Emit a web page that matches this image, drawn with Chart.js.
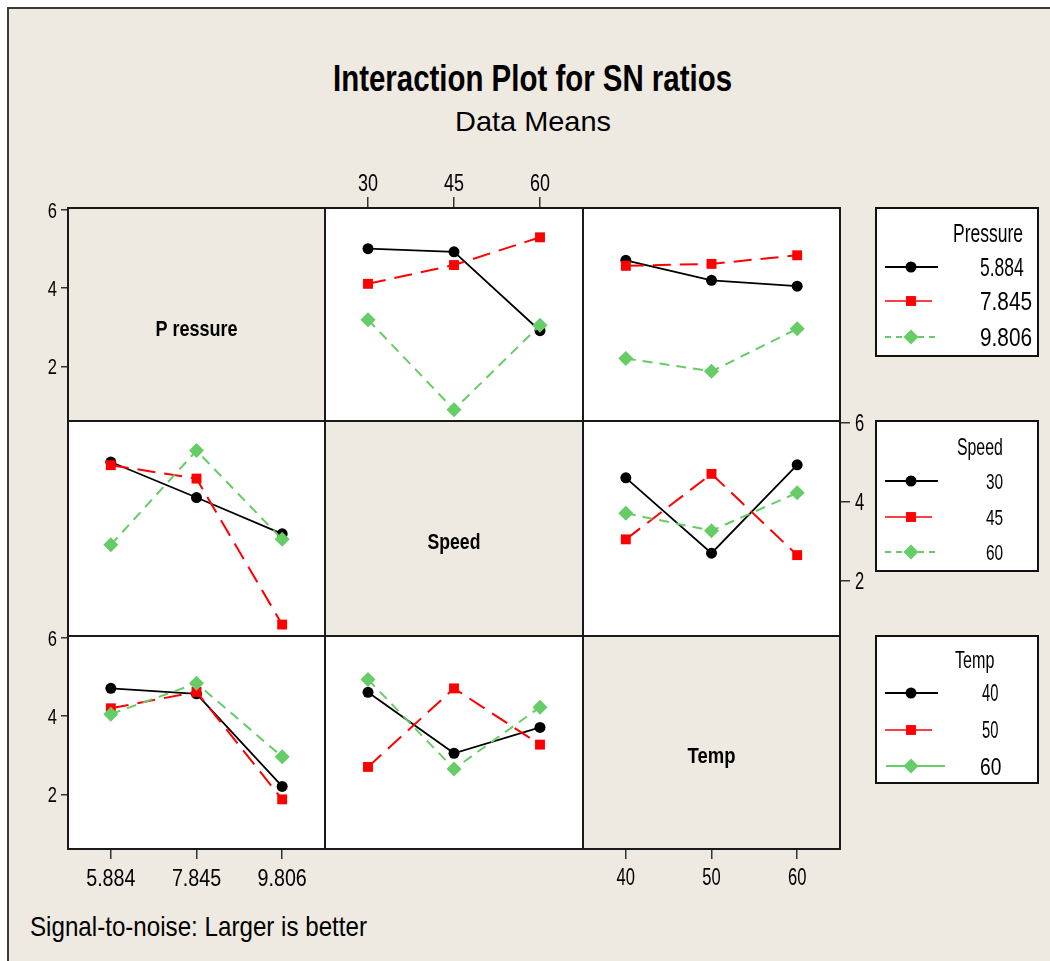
<!DOCTYPE html>
<html><head><meta charset="utf-8">
<script src="https://cdn.jsdelivr.net/npm/chart.js@4.4.1/dist/chart.umd.min.js"></script>
<style>
html,body{margin:0;padding:0;background:#fff;}
body{width:1050px;height:961px;position:relative;overflow:hidden;font-family:"Liberation Sans",Arial,sans-serif;}
#frame{position:absolute;left:7px;top:7px;width:1100px;height:1000px;background:#EEEAE1;border-left:2px solid #3a3a3a;border-top:2px solid #3a3a3a;}
canvas{position:absolute;}
.txt{position:absolute;white-space:nowrap;transform-origin:0 0;color:#000;line-height:1;}
</style></head><body>
<div id="frame"></div>
<div id="title" class="txt" style="font-weight:bold;font-size:36px;">Interaction Plot for SN ratios</div>
<div id="subtitle" class="txt" style="font-size:28px;">Data Means</div>
<div id="note" class="txt" style="font-size:28px;">Signal-to-noise: Larger is better</div>
<script>
// ---------- data ----------
const pressureLevels = ['5.884', '7.845', '9.806'];
const speedLevels = ['30', '45', '60'];
const tempLevels = ['40', '50', '60'];
const yTicks = [2, 4, 6];
// mean SN ratios: rows = level of first factor, columns = level of second factor
const snPressureSpeed = [
  [5.01, 4.93, 2.91],
  [4.11, 4.59, 5.30],
  [3.19, 0.89, 3.05]
];
const snPressureTemp = [
  [4.71, 4.20, 4.05],
  [4.57, 4.62, 4.84],
  [2.20, 1.87, 2.96]
];
const snSpeedTemp = [
  [4.61, 2.70, 4.94],
  [3.05, 4.71, 2.65],
  [3.71, 3.27, 4.23]
];

// ---------- styles ----------
const FONT = '"Liberation Sans", Arial, sans-serif';
const BEIGE = '#EEEAE1';
const Y_MIN = 0.6, Y_MAX = 6.05;
const colEdges = [68, 325, 583, 840];
const rowEdges = [208, 421, 636, 849];
const seriesStyle = [
  {color: '#000000', dash: [], pointStyle: 'circle', radius: 5.5, width: 1.8, order: 3},
  {color: '#FF0000', dash: [18, 9], pointStyle: 'rect', radius: 7, width: 2, order: 2},
  {color: '#66CC66', dash: [10, 7], pointStyle: 'rectRot', radius: 7.5, width: 2, order: 1}
];

const transpose = m => m[0].map((_, j) => m.map(row => row[j]));

function placeText(id, x, baseline, width) {
  const el = document.getElementById(id);
  const fs = parseFloat(getComputedStyle(el).fontSize);
  const w = el.getBoundingClientRect().width;
  el.style.left = x + 'px';
  el.style.top = (baseline - 0.8465 * fs) + 'px';
  el.style.transform = 'scaleX(' + (width / w) + ')';
}
placeText('title', 333, 91, 399);
placeText('subtitle', 455, 132, 156);
placeText('note', 30, 937, 337);

function drawScaledText(ctx, text, x, baseline, size, sx, align, bold) {
  ctx.save();
  ctx.font = (bold ? 'bold ' : '') + size + 'px ' + FONT;
  ctx.fillStyle = '#000';
  ctx.textAlign = align || 'left';
  ctx.textBaseline = 'alphabetic';
  ctx.translate(x, baseline);
  ctx.scale(sx, 1);
  ctx.fillText(text, 0, 0);
  ctx.restore();
}

// ---------- plugins ----------
const cellPlugin = {
  id: 'cell',
  beforeDraw(chart, args, o) {
    const a = chart.chartArea, ctx = chart.ctx;
    ctx.save();
    ctx.fillStyle = o.fill || '#fff';
    ctx.fillRect(a.left, a.top, a.right - a.left, a.bottom - a.top);
    ctx.restore();
  },
  afterDraw(chart, args, o) {
    const a = chart.chartArea, ctx = chart.ctx;
    ctx.save();
    ctx.strokeStyle = '#1a1a1a';
    ctx.lineWidth = 2;
    ctx.strokeRect(a.left, a.top, a.right - a.left, a.bottom - a.top);
    ctx.restore();
    if (o.label) {
      const cx = (a.left + a.right) / 2;
      const cy = (a.top + a.bottom) / 2 + o.label.dy + 0.358 * o.label.size;
      drawScaledText(ctx, o.label.text, cx, cy, o.label.size, o.label.sx, 'center', true);
    }
  }
};

// tick labels drawn at the library's tick positions, in a horizontally condensed face
const tickTextPlugin = {
  id: 'tickText',
  afterDraw(chart, args, o) {
    const ctx = chart.ctx, a = chart.chartArea;
    ['x', 'y'].forEach(key => {
      const cfg = o[key];
      if (!cfg) return;
      const scale = chart.scales[key];
      scale.ticks.forEach((t, i) => {
        const p = scale.getPixelForTick(i);
        const label = String(t.label);
        const capHalf = 0.358 * cfg.size;
        if (cfg.pos === 'bottom') drawScaledText(ctx, label, p, a.bottom + cfg.off + capHalf, cfg.size, cfg.sx, 'center');
        else if (cfg.pos === 'top') drawScaledText(ctx, label, p, a.top - cfg.off + capHalf, cfg.size, cfg.sx, 'center');
        else if (cfg.pos === 'left') drawScaledText(ctx, label, a.left - cfg.off, p + capHalf, cfg.size, cfg.sx, 'right');
        else drawScaledText(ctx, label, a.right + cfg.off, p + capHalf, cfg.size, cfg.sx, 'left');
      });
    });
  }
};

const legendPlugin = {
  id: 'boxLegend',
  afterDraw(chart, args, o) {
    if (!o || !o.box) return;
    const ctx = chart.ctx;
    const ox = parseFloat(chart.canvas.style.left), oy = parseFloat(chart.canvas.style.top);
    ctx.save();
    ctx.translate(-ox, -oy);
    const [x0, y0, x1, y1] = o.box;
    ctx.fillStyle = '#fff';
    ctx.fillRect(x0, y0, x1 - x0, y1 - y0);
    ctx.strokeStyle = '#111';
    ctx.lineWidth = 2;
    ctx.strokeRect(x0, y0, x1 - x0, y1 - y0);
    drawScaledText(ctx, o.title.text, o.title.x, o.title.base, o.title.size, o.title.sx);
    o.items.forEach((it, i) => {
      const s = seriesStyle[i];
      ctx.save();
      ctx.strokeStyle = s.color;
      ctx.lineWidth = it.lw;
      ctx.setLineDash(it.dash);
      ctx.beginPath();
      ctx.moveTo(it.lx0, it.y);
      ctx.lineTo(it.lx1, it.y);
      ctx.stroke();
      ctx.setLineDash([]);
      ctx.fillStyle = s.color;
      Chart.helpers.drawPoint(ctx, {pointStyle: s.pointStyle, radius: s.radius, rotation: 0, borderWidth: 0}, it.mx, it.y);
      ctx.restore();
      drawScaledText(ctx, o.labels[i], it.tx, it.y + 0.358 * it.size, it.size, it.sx);
    });
    ctx.restore();
  }
};

// ---------- chart builder ----------
function buildDatasets(rows, names) {
  return rows.map((vals, i) => {
    const s = seriesStyle[i];
    return {
      label: names[i], data: vals, order: s.order,
      borderColor: s.color, backgroundColor: s.color, borderWidth: s.width, borderDash: s.dash,
      pointStyle: s.pointStyle, pointRadius: s.radius, pointBackgroundColor: s.color,
      pointBorderColor: s.color, pointBorderWidth: 0, pointHoverRadius: s.radius,
      tension: 0, fill: false
    };
  });
}

function makeCell(r, c, spec) {
  const L = colEdges[c], R = colEdges[c + 1], T = rowEdges[r], B = rowEdges[r + 1];
  const pad = spec.pad;
  const W = R - L + pad.left + pad.right, H = B - T + pad.top + pad.bottom;
  const cv = document.createElement('canvas');
  cv.width = W; cv.height = H;
  cv.style.left = (L - pad.left) + 'px';
  cv.style.top = (T - pad.top) + 'px';
  cv.style.width = W + 'px';
  cv.style.height = H + 'px';
  document.body.appendChild(cv);

  const lp = {left: pad.left, right: pad.right, top: pad.top, bottom: pad.bottom};
  const xa = spec.xAxis, ya = spec.yAxis;
  if (xa) lp[xa.pos] -= xa.size;
  if (ya) lp[ya.pos] -= ya.size;

  const xScale = {
    type: 'category', offset: true, display: !!xa, position: xa ? xa.pos : 'bottom',
    grid: {display: true, drawOnChartArea: false, drawTicks: true, tickLength: xa ? xa.tl : 0, color: '#333', lineWidth: 1.5, offset: false},
    border: {display: false},
    ticks: {display: false, autoSkip: false, maxRotation: 0, minRotation: 0},
    afterFit: a => { if (xa) a.height = xa.size; }
  };
  const yScale = {
    type: 'linear', display: !!ya, position: ya ? ya.pos : 'left', min: Y_MIN, max: Y_MAX,
    afterBuildTicks: a => { a.ticks = yTicks.map(v => ({value: v})); },
    grid: {display: true, drawOnChartArea: false, drawTicks: true, tickLength: ya ? ya.tl : 0, color: '#333', lineWidth: 1.5},
    border: {display: false},
    ticks: {display: false},
    afterFit: a => { if (ya) a.width = ya.size; }
  };

  return new Chart(cv, {
    type: 'line',
    data: {labels: spec.labels, datasets: spec.rows ? buildDatasets(spec.rows, spec.names) : []},
    options: {
      responsive: false, animation: false, devicePixelRatio: 1,
      layout: {padding: lp},
      scales: {x: xScale, y: yScale},
      plugins: {
        legend: {display: false}, tooltip: {enabled: false},
        cell: {fill: spec.label ? BEIGE : '#FFFFFF', label: spec.label || null},
        tickText: {x: xa ? xa.text : null, y: ya ? ya.text : null},
        boxLegend: spec.legend || {}
      }
    },
    plugins: [cellPlugin, tickTextPlugin, legendPlugin]
  });
}

const P24 = {left: 24, right: 24, top: 24, bottom: 24};
const leftAxis = {pos: 'left', size: 68, tl: 7, text: {pos: 'left', off: 11, size: 22, sx: 0.75}};

// Row 1: Pressure
makeCell(0, 0, {labels: pressureLevels, pad: {left: 68, right: 24, top: 24, bottom: 24}, yAxis: leftAxis,
  label: {text: 'P ressure', size: 22, sx: 0.82, dy: 13.5}});
makeCell(0, 1, {labels: speedLevels, rows: snPressureSpeed, names: pressureLevels,
  pad: {left: 24, right: 24, top: 60, bottom: 24},
  xAxis: {pos: 'top', size: 60, tl: 11, text: {pos: 'top', off: 25, size: 23, sx: 0.78}}});
makeCell(0, 2, {labels: tempLevels, rows: snPressureTemp, names: pressureLevels,
  pad: {left: 24, right: 210, top: 24, bottom: 24},
  legend: {box: [876, 208, 1038, 356], labels: pressureLevels,
    title: {text: 'Pressure', x: 953, base: 242, size: 25, sx: 0.70},
    items: [
      {y: 267, lx0: 885, lx1: 938, mx: 911, lw: 1.8, dash: [], tx: 980, size: 25, sx: 0.70},
      {y: 301, lx0: 885, lx1: 932, mx: 911, lw: 1.5, dash: [], tx: 980, size: 26, sx: 0.80},
      {y: 337, lx0: 885, lx1: 938, mx: 911, lw: 2, dash: [6, 5], tx: 980, size: 26, sx: 0.80}
    ]}});

// Row 2: Speed
makeCell(1, 0, {labels: pressureLevels, rows: transpose(snPressureSpeed), names: speedLevels, pad: P24});
makeCell(1, 1, {labels: speedLevels, pad: P24, label: {text: 'Speed', size: 22, sx: 0.8, dy: 12.5}});
makeCell(1, 2, {labels: tempLevels, rows: snSpeedTemp, names: speedLevels,
  pad: {left: 24, right: 210, top: 24, bottom: 24},
  yAxis: {pos: 'right', size: 40, tl: 10, text: {pos: 'right', off: 15, size: 23, sx: 0.72}},
  legend: {box: [876, 421, 1038, 571], labels: speedLevels,
    title: {text: 'Speed', x: 957, base: 455, size: 24, sx: 0.66},
    items: [
      {y: 481, lx0: 885, lx1: 938, mx: 911, lw: 1.8, dash: [], tx: 986, size: 22, sx: 0.70},
      {y: 517, lx0: 885, lx1: 932, mx: 911, lw: 1.5, dash: [], tx: 986, size: 22, sx: 0.70},
      {y: 552, lx0: 885, lx1: 938, mx: 911, lw: 2, dash: [6, 5], tx: 986, size: 22, sx: 0.70}
    ]}});

// Row 3: Temp
makeCell(2, 0, {labels: pressureLevels, rows: transpose(snPressureTemp), names: tempLevels,
  pad: {left: 68, right: 24, top: 24, bottom: 60}, yAxis: leftAxis,
  xAxis: {pos: 'bottom', size: 60, tl: 10, text: {pos: 'bottom', off: 28, size: 24, sx: 0.82}}});
makeCell(2, 1, {labels: speedLevels, rows: transpose(snSpeedTemp), names: tempLevels, pad: P24});
makeCell(2, 2, {labels: tempLevels, pad: {left: 24, right: 210, top: 24, bottom: 60},
  xAxis: {pos: 'bottom', size: 60, tl: 10, text: {pos: 'bottom', off: 28, size: 23, sx: 0.72}},
  label: {text: 'Temp', size: 22, sx: 0.84, dy: 12.5},
  legend: {box: [876, 636, 1038, 783], labels: tempLevels,
    title: {text: 'Temp', x: 955, base: 668, size: 23, sx: 0.70},
    items: [
      {y: 693, lx0: 885, lx1: 938, mx: 911, lw: 1.8, dash: [], tx: 982, size: 23, sx: 0.64},
      {y: 730, lx0: 885, lx1: 932, mx: 911, lw: 1.5, dash: [], tx: 982, size: 23, sx: 0.64},
      {y: 766, lx0: 886, lx1: 945, mx: 911, lw: 2, dash: [], tx: 980, size: 24, sx: 0.80}
    ]}});
</script>
</body></html>
